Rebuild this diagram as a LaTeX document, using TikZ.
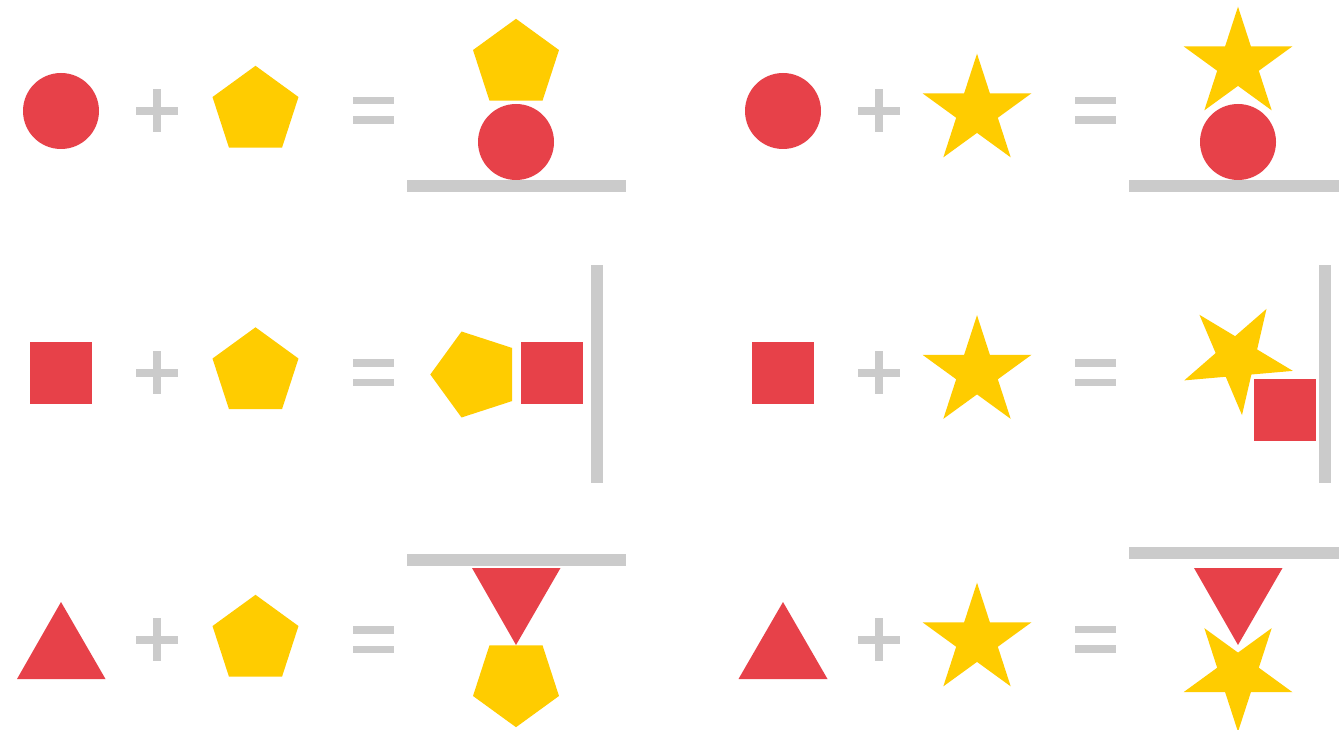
\documentclass[tikz,border=0pt]{standalone}
\usetikzlibrary{calc}
\definecolor{shred}{HTML}{E74149}
\definecolor{shyel}{HTML}{FFCC00}
\definecolor{shgray}{HTML}{CBCBCB}
\tikzset{
  redshape/.style={fill=shred},
  yelshape/.style={fill=shyel},
  barshape/.style={fill=shgray},
  opshape/.style={fill=shgray},
}
% #1 cx, #2 cy, #3 R, #4 angle of first vertex (pixel space, -90 = up)
\newcommand\shpPent[4]{\fill[yelshape,shift={(#1,#2)}] (#4:#3)
  -- ({#4+72}:#3) -- ({#4+144}:#3) -- ({#4+216}:#3) -- ({#4+288}:#3) -- cycle;}
\newcommand\shpStar[4]{\fill[yelshape,shift={(#1,#2)}] (#4:#3)
  \foreach \k in {0,...,4}{ -- ({#4+72*\k+36}:{0.382*#3}) -- ({#4+72*\k+72}:#3)} -- cycle;}
\newcommand\shpPlus[2]{\fill[opshape] ({#1-21},{#2-4}) rectangle ({#1+21},{#2+4});
  \fill[opshape] ({#1-4},{#2-21.5}) rectangle ({#1+4},{#2+21.5});}
\newcommand\shpEq[2]{\fill[opshape] ({#1-20.5},{#2-13.5}) rectangle ({#1+20.5},{#2-6});
  \fill[opshape] ({#1-20.5},{#2+6}) rectangle ({#1+20.5},{#2+13.5});}
\begin{document}
\begin{tikzpicture}[x=1pt,y=-1pt]
\fill[white] (0,0) rectangle (1339,730);
\useasboundingbox (0,0) rectangle (1339,730);

% ---------- Row 1 ----------
\fill[redshape] (61,111) circle (38);
\shpPlus{157}{111}
\shpPent{255.5}{111}{45.2}{-90}
\shpEq{373.5}{110.5}
\shpPent{516}{64}{45.2}{-90}
\fill[redshape] (516,142) circle (38);
\fill[barshape] (407,180) rectangle (626,192);

\fill[redshape] (783,111) circle (38);
\shpPlus{879}{111}
\shpStar{977}{111}{57.3}{-90}
\shpEq{1095}{110.5}
\shpStar{1238}{64}{57.3}{-90}
\fill[redshape] (1238,142) circle (38);
\fill[barshape] (1129,180) rectangle (1339,192);

% ---------- Row 2 ----------
\fill[redshape] (30,342) rectangle (92,404);
\shpPlus{157}{372.5}
\shpPent{255.5}{372.5}{45.2}{-90}
\shpEq{373.5}{372.5}
\shpPent{475.5}{374.5}{45.2}{180}
\fill[redshape] (521,342) rectangle (583,404);
\fill[barshape] (591,265) rectangle (603,483);

\fill[redshape] (752,342) rectangle (814,404);
\shpPlus{879}{372.5}
\shpStar{977}{372.5}{57.3}{-90}
\shpEq{1095}{372.5}
\shpStar{1237}{358}{57.3}{-59}
\fill[redshape] (1254,379) rectangle (1316,441);
\fill[barshape] (1319,265) rectangle (1331,483);

% ---------- Row 3 ----------
\fill[redshape] (17,679) -- (105.5,679) -- (61,602) -- cycle;
\shpPlus{157}{639.5}
\shpPent{255.5}{640}{45.2}{-90}
\shpEq{373.5}{639.5}
\fill[barshape] (407,553.5) rectangle (626,565.5);
\fill[redshape] (472,568) -- (560.5,568) -- (516,645) -- cycle;
\shpPent{516}{682}{45.2}{90}

\fill[redshape] (738.5,679) -- (827.5,679) -- (783,602) -- cycle;
\shpPlus{879}{639.5}
\shpStar{977}{640}{57.3}{-90}
\shpEq{1095}{639}
\fill[barshape] (1129,547) rectangle (1339,559);
\fill[redshape] (1194,568) -- (1282.5,568) -- (1238,645) -- cycle;
\shpStar{1238}{674.5}{57.3}{90}
\end{tikzpicture}
\end{document}
